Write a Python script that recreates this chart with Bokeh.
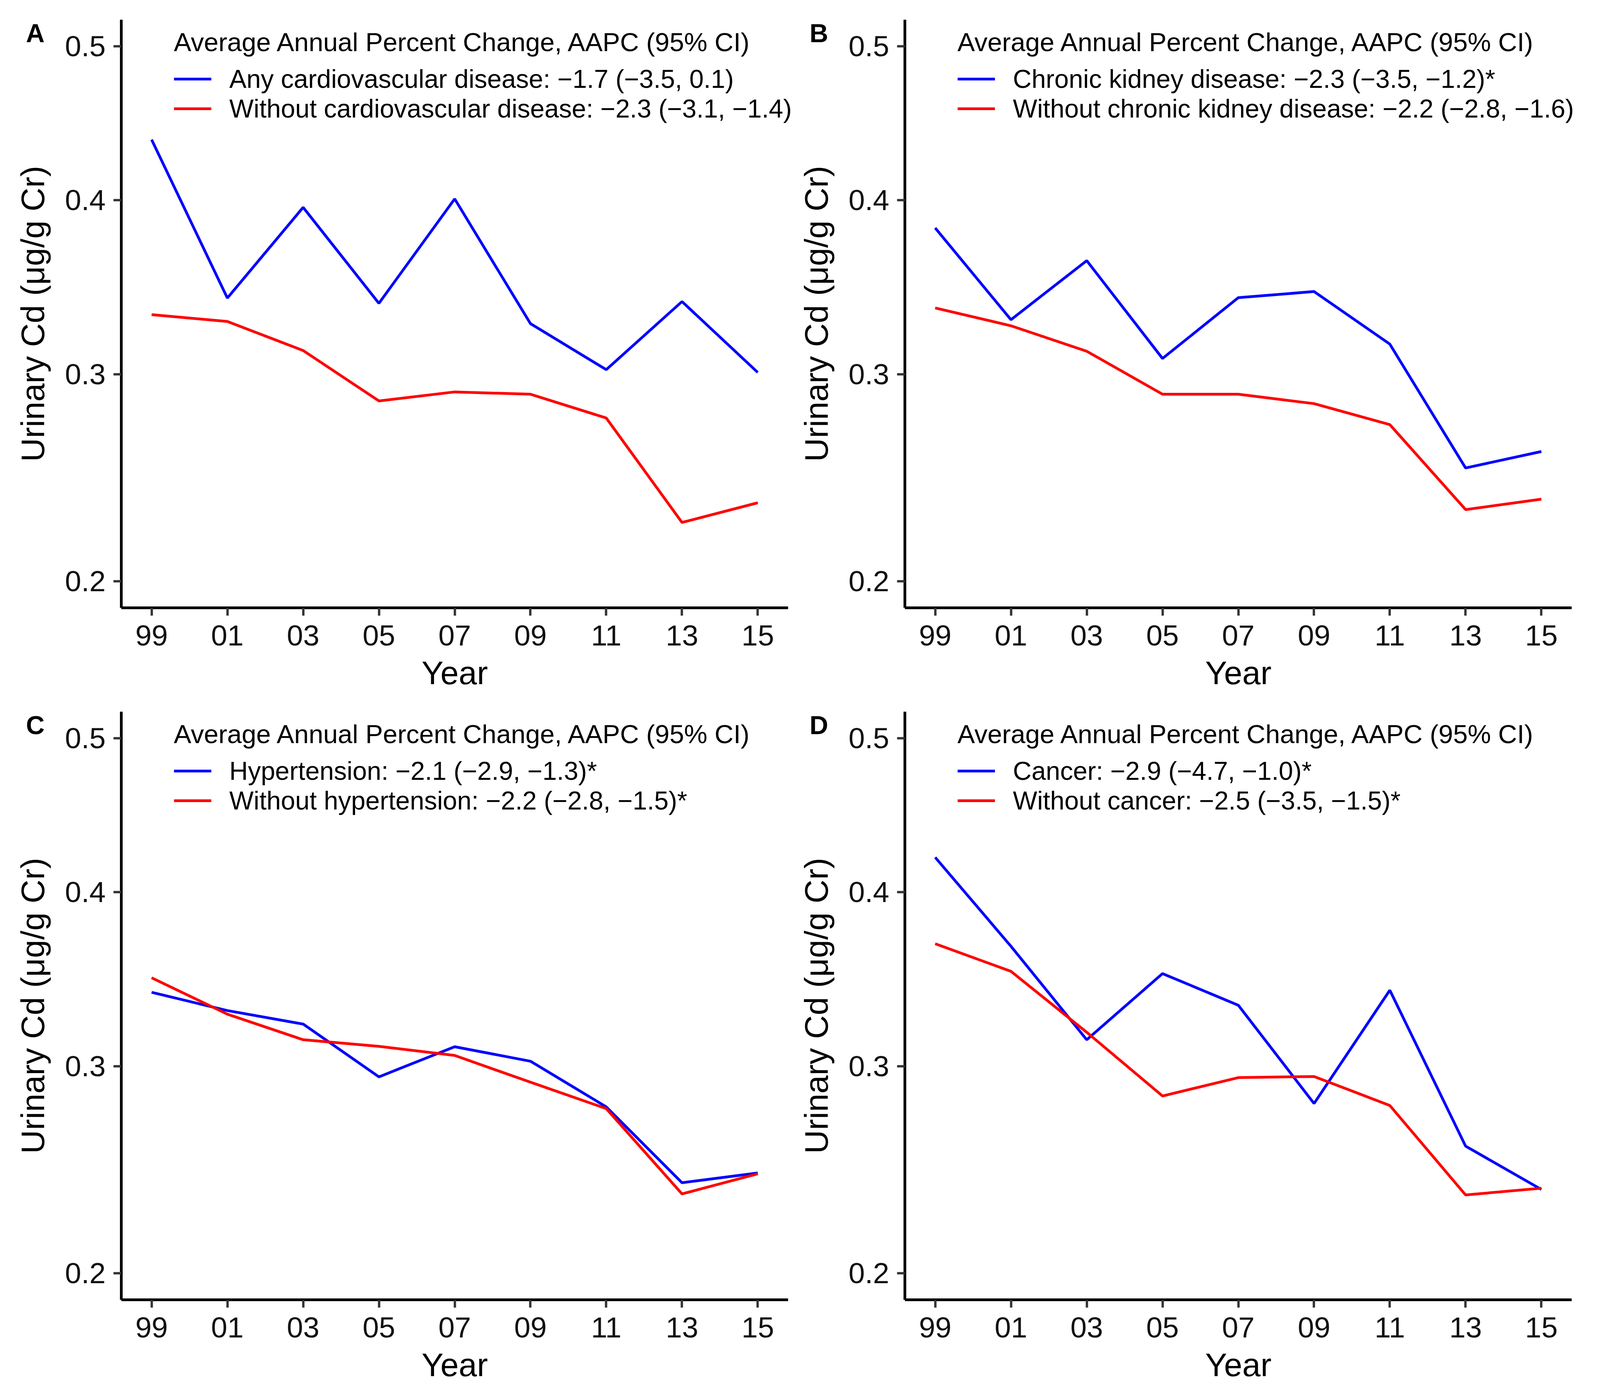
import numpy as np
from bokeh.plotting import figure
from bokeh.models import (Range1d, FixedTicker, CustomJSTickFormatter, Legend,
                          LegendItem, Label)
from bokeh.layouts import column, row
from bokeh.embed import file_html
from bokeh.resources import INLINE

# ---------------- data ----------------
years = [1999, 2001, 2003, 2005, 2007, 2009, 2011, 2013, 2015]
year_tick_labels = ["99", "01", "03", "05", "07", "09", "11", "13", "15"]
y_tick_values = [0.2, 0.3, 0.4, 0.5]
y_limits = [0.2, 0.5]

cvd_any = [0.438, 0.342, 0.3955, 0.339, 0.4007, 0.3276, 0.3025, 0.340, 0.301]
cvd_without = [0.3326, 0.3288, 0.3128, 0.286, 0.2907, 0.2895, 0.2772, 0.2263, 0.2355]
ckd_yes = [0.383, 0.3298, 0.3636, 0.3085, 0.3422, 0.3457, 0.3163, 0.2522, 0.2603]
ckd_without = [0.3364, 0.3264, 0.3124, 0.2895, 0.2895, 0.2846, 0.2738, 0.2323, 0.2372]
htn_yes = [0.3407, 0.3304, 0.3229, 0.2944, 0.3105, 0.3027, 0.2788, 0.2412, 0.2459]
htn_without = [0.349, 0.3284, 0.3143, 0.3107, 0.3058, 0.2916, 0.2779, 0.2359, 0.2455]
cancer_yes = [0.4216, 0.3673, 0.3143, 0.3514, 0.3334, 0.2805, 0.3419, 0.259, 0.238]
cancer_without = [0.3688, 0.3527, 0.3184, 0.2844, 0.294, 0.2946, 0.2795, 0.2354, 0.2386]

legend_title = "Average Annual Percent Change, AAPC (95% CI)"
labels_A = ["Any cardiovascular disease: \u22121.7 (\u22123.5, 0.1)",
            "Without cardiovascular disease: \u22122.3 (\u22123.1, \u22121.4)"]
labels_B = ["Chronic kidney disease: \u22122.3 (\u22123.5, \u22121.2)*",
            "Without chronic kidney disease: \u22122.2 (\u22122.8, \u22121.6)"]
labels_C = ["Hypertension: \u22122.1 (\u22122.9, \u22121.3)*",
            "Without hypertension: \u22122.2 (\u22122.8, \u22121.5)*"]
labels_D = ["Cancer: \u22122.9 (\u22124.7, \u22121.0)*",
            "Without cancer: \u22122.5 (\u22123.5, \u22121.5)*"]

x_label = "Year"
y_label = "Urinary Cd (\u03bcg/g Cr)"

FONT = "Liberation Sans"
FW, FH = 1707, 1506   # size of the inner (axes) panel


def make_panel(letter, yes, no, labels, W, H, L, T):
    s0, s1 = np.sqrt(y_limits[0]), np.sqrt(y_limits[1])
    d = s1 - s0
    y0r, y1r = s0 - 0.05 * d, s1 + 0.05 * d
    x0, x1 = min(years), max(years)
    dx = x1 - x0
    x0r, x1r = x0 - 0.05 * dx, x1 + 0.05 * dx
    ppx = FW / (x1r - x0r)
    ppy = FH / (y1r - y0r)
    xs = x0r - L / ppx
    xe = x1r + (W - L - FW) / ppx
    ys = y0r - (H - T - FH) / ppy
    ye = y1r + T / ppy

    p = figure(width=W, height=H, output_backend="svg", toolbar_location=None,
               x_range=Range1d(xs, xe), y_range=Range1d(ys, ye),
               min_border_left=0, min_border_right=0,
               min_border_top=0, min_border_bottom=0)
    p.outline_line_color = None
    p.xgrid.visible = False
    p.ygrid.visible = False
    p.background_fill_color = "white"
    p.border_fill_color = "white"

    r1 = p.line(years, np.sqrt(yes), line_color="#0000FF", line_width=7)
    r2 = p.line(years, np.sqrt(no), line_color="#FF0000", line_width=7)

    for ax in (p.xaxis[0], p.yaxis[0]):
        ax.axis_line_width = 7
        ax.axis_line_color = "black"
        ax.major_tick_line_width = 6
        ax.major_tick_line_color = "#333333"
        ax.major_tick_out = 20
        ax.major_tick_in = 0
        ax.minor_tick_line_color = None
        ax.major_label_text_font = FONT
        ax.major_label_text_font_size = "75px"
        ax.major_label_text_color = "#111111"

    p.xaxis.ticker = FixedTicker(ticks=years)
    p.xaxis.major_label_overrides = dict(zip(years, year_tick_labels))
    p.xaxis.major_label_standoff = 25
    p.xaxis.fixed_location = y0r
    p.xaxis.bounds = (x0r, x1r)

    p.yaxis.ticker = FixedTicker(ticks=[float(np.sqrt(v)) for v in y_tick_values])
    p.yaxis.formatter = CustomJSTickFormatter(code="return (tick*tick).toFixed(1);")
    p.yaxis.major_label_standoff = 20
    p.yaxis.fixed_location = x0r
    p.yaxis.bounds = (y0r, y1r)

    # axis titles
    p.add_layout(Label(x=(x0r + x1r) / 2, y=y0r - 166 / ppy, text=x_label,
                       text_font=FONT, text_font_size="84px",
                       text_align="center", text_baseline="alphabetic",
                       text_color="black"))
    p.add_layout(Label(x=x0r - 227 / ppx, y=(y0r + y1r) / 2, text=y_label,
                       angle=np.pi / 2, text_font=FONT, text_font_size="84px",
                       text_align="center", text_baseline="alphabetic",
                       text_color="black"))
    # panel letter
    p.add_layout(Label(x=x0r - 244 / ppx, y=y1r - 34 / ppy, text=letter,
                       text_font=FONT, text_font_size="66px",
                       text_font_style="bold", text_align="left",
                       text_baseline="alphabetic", text_color="black"))

    legend = Legend(items=[LegendItem(label=labels[0], renderers=[r1]),
                           LegendItem(label=labels[1], renderers=[r2])],
                    title=legend_title, location=(L + 135, H - T - 266))
    legend.title_text_font = FONT
    legend.title_text_font_size = "67px"
    legend.title_text_font_style = "normal"
    legend.title_text_color = "black"
    legend.title_standoff = 18
    legend.label_text_font = FONT
    legend.label_text_font_size = "66px"
    legend.label_text_color = "black"
    legend.glyph_width = 96
    legend.glyph_height = 20
    legend.label_standoff = 46
    legend.spacing = 0
    legend.padding = 0
    legend.margin = 0
    legend.border_line_color = None
    legend.background_fill_alpha = 0
    p.add_layout(legend)
    return p


pA = make_panel("A", cvd_any, cvd_without, labels_A, 2035, 1786, 310, 50)
pB = make_panel("B", ckd_yes, ckd_without, labels_B, 2064, 1786, 281, 50)
pC = make_panel("C", htn_yes, htn_without, labels_C, 2035, 1776, 310, 36)
pD = make_panel("D", cancer_yes, cancer_without, labels_D, 2064, 1776, 281, 36)

layout = column(row(pA, pB), row(pC, pD))
open("out.html", "w").write(file_html(layout, INLINE))
